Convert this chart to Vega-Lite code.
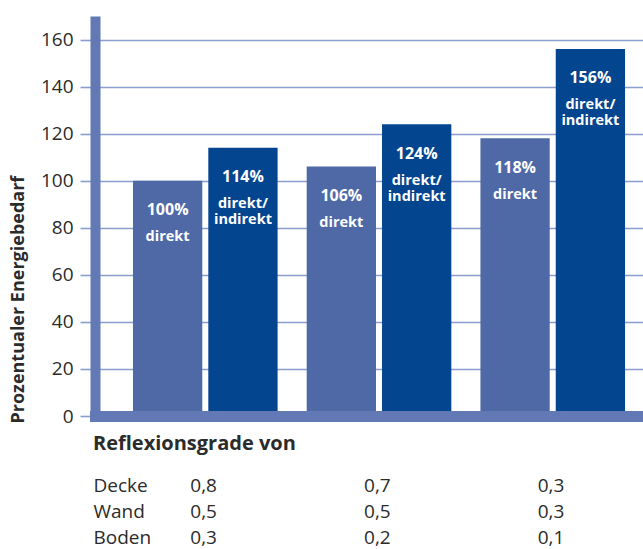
{
  "$schema": "https://vega.github.io/schema/vega-lite/v6.json",
  "width": 548,
  "height": 400,
  "autosize": {"type": "none"},
  "padding": {"left": 95, "top": 16, "right": 0, "bottom": 133},
  "background": "white",
  "config": {
    "font": "Open Sans",
    "view": {"stroke": null}
  },
  "title": {
    "text": "Reflexionsgrade von",
    "orient": "bottom",
    "anchor": "start",
    "frame": "group",
    "dx": -2,
    "dy": -101.5,
    "baseline": "alphabetic",
    "fontSize": 20,
    "fontWeight": "bold",
    "color": "#2b2b2b",
    "font": "Open Sans"
  },
  "data": {
    "values": [
      {"group": "0,8|0,5|0,3", "type": "direkt", "value": 100, "pct": "100%", "desc": "direkt"},
      {"group": "0,8|0,5|0,3", "type": "direkt/indirekt", "value": 114, "pct": "114%", "desc": "direkt/|indirekt"},
      {"group": "0,7|0,5|0,2", "type": "direkt", "value": 106, "pct": "106%", "desc": "direkt"},
      {"group": "0,7|0,5|0,2", "type": "direkt/indirekt", "value": 124, "pct": "124%", "desc": "direkt/|indirekt"},
      {"group": "0,3|0,3|0,1", "type": "direkt", "value": 118, "pct": "118%", "desc": "direkt"},
      {"group": "0,3|0,3|0,1", "type": "direkt/indirekt", "value": 156, "pct": "156%", "desc": "direkt/|indirekt"}
    ]
  },
  "encoding": {
    "x": {
      "field": "group",
      "type": "nominal",
      "sort": null,
      "scale": {"paddingInner": 0.1675, "paddingOuter": 0.161, "align": 0.679},
      "axis": {
        "zindex": 1,
        "domain": true,
        "domainColor": "#6279b5",
        "domainWidth": 11,
        "domainCap": "square",
        "ticks": false,
        "tickSize": 0,
        "grid": false,
        "labelAngle": 0,
        "labelExpr": "split(datum.label, '|')",
        "labelAlign": "left",
        "labelBaseline": "alphabetic",
        "labelOffset": -15,
        "labelPadding": 75.5,
        "labelLineHeight": 26,
        "labelFontSize": 19,
        "labelColor": "#2b2b2b",
        "labelFont": "Open Sans",
        "title": ["Decke", "Wand", "Boden"],
        "titleX": -2,
        "titleY": 75.5,
        "titleAlign": "left",
        "titleAnchor": "start",
        "titleBaseline": "alphabetic",
        "titleLineHeight": 26,
        "titleFontSize": 19,
        "titleFontWeight": "normal",
        "titleColor": "#2b2b2b",
        "titleFont": "Open Sans"
      }
    },
    "xOffset": {
      "field": "type",
      "type": "nominal",
      "sort": ["direkt", "direkt/indirekt"],
      "scale": {"paddingInner": 0.08, "paddingOuter": 0}
    },
    "y": {
      "field": "value",
      "type": "quantitative",
      "scale": {"domain": [0, 170], "nice": false},
      "axis": {
        "zindex": 0,
        "values": [0, 20, 40, 60, 80, 100, 120, 140, 160],
        "domain": true,
        "domainColor": "#6279b5",
        "domainWidth": 10,
        "domainCap": "butt",
        "grid": true,
        "gridColor": "#8c9dd0",
        "gridWidth": 1.6,
        "ticks": true,
        "tickSize": 15,
        "tickColor": "#8c9dd0",
        "tickWidth": 1.6,
        "labelPadding": 7,
        "labelFontSize": 19,
        "labelColor": "#2b2b2b",
        "labelFont": "Open Sans",
        "title": "Prozentualer Energiebedarf",
        "titleAngle": -90,
        "titleX": -77,
        "titleY": 407,
        "titleAlign": "left",
        "titleBaseline": "middle",
        "titleFontSize": 18,
        "titleFontWeight": "bold",
        "titleColor": "#2b2b2b",
        "titleFont": "Open Sans"
      }
    }
  },
  "layer": [
    {
      "mark": {"type": "bar"},
      "encoding": {
        "color": {
          "field": "type",
          "type": "nominal",
          "scale": {"domain": ["direkt", "direkt/indirekt"], "range": ["#4e69a6", "#03458f"]},
          "legend": null
        }
      }
    },
    {
      "mark": {"type": "text", "color": "white", "fontSize": 16, "fontWeight": "bold", "baseline": "alphabetic", "dy": 34.5, "font": "Open Sans"},
      "encoding": {"text": {"field": "pct"}}
    },
    {
      "mark": {"type": "text", "color": "white", "fontSize": 14.5, "fontWeight": "bold", "baseline": "alphabetic", "dy": 60.5, "lineBreak": "|", "lineHeight": 16, "font": "Open Sans"},
      "encoding": {"text": {"field": "desc"}}
    }
  ]
}
